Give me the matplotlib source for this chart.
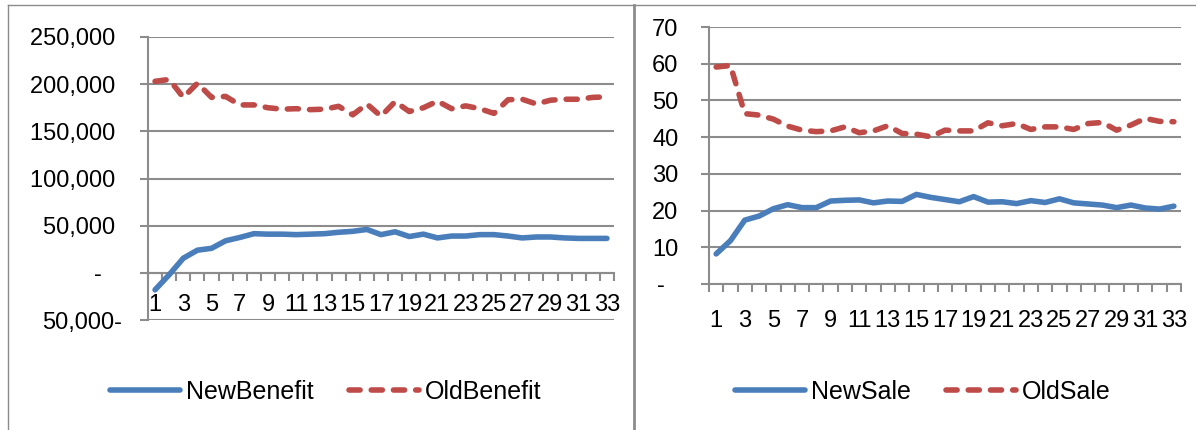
import matplotlib
matplotlib.use("Agg")
import matplotlib.pyplot as plt
from matplotlib.lines import Line2D
import numpy as np

plt.rcParams['font.family'] = ['Liberation Sans', 'DejaVu Sans']

periods = list(range(1, 34))
new_benefit = [-18000, -2000, 15500, 24000, 26000, 34000, 37500, 41500, 41000, 41000,
               40500, 41000, 41500, 43000, 44000, 46000, 40500, 43500, 38500, 41000,
               37000, 39000, 39000, 40500, 40500, 39000, 37000, 38000, 38000, 37000,
               36500, 36500, 36500]
old_benefit = [203000, 205000, 186000, 201000, 186000, 187000, 178000, 178000, 175000, 173500,
               174000, 173000, 173500, 176500, 167500, 179000, 166000, 181500, 171000, 175000,
               182000, 174000, 177000, 174000, 169000, 183500, 184000, 179000, 183000, 184000,
               184000, 186000, 186500]
new_sale = [8.2, 11.8, 17.4, 18.5, 20.5, 21.6, 20.8, 20.8, 22.6, 22.8,
            22.9, 22.1, 22.6, 22.5, 24.4, 23.6, 23.0, 22.4, 23.8, 22.3,
            22.4, 21.9, 22.7, 22.2, 23.2, 22.1, 21.8, 21.5, 20.8, 21.5,
            20.7, 20.4, 21.2]
old_sale = [59.1, 59.5, 46.4, 46.0, 44.9, 43.0, 41.9, 41.5, 41.7, 42.8,
            41.2, 41.7, 43.1, 41.0, 40.8, 40.1, 41.9, 41.7, 41.7, 43.9,
            43.1, 43.7, 42.1, 42.8, 42.8, 42.1, 43.7, 44.0, 41.9, 43.3,
            45.1, 44.3, 44.2]

benefit_ticks = [-50000, 0, 50000, 100000, 150000, 200000, 250000]
benefit_labels = ["50,000-", "-   ", "50,000 ", "100,000 ", "150,000 ", "200,000 ", "250,000 "]
sale_ticks = [0, 10, 20, 30, 40, 50, 60, 70]
sale_labels = ["-  ", "10", "20", "30", "40", "50", "60", "70"]

W, H = 1196, 430
fig = plt.figure(figsize=(W / 100, H / 100), dpi=100)

BLUE = "#4A7EBB"
RED = "#BE4B48"
GRID = "#8C8C8C"
FS = 17
LFS = 18
LW = 4.0


def px_rect(x0, x1, ytop, ybot):
    return [x0 / W, 1 - ybot / H, (x1 - x0) / W, (ybot - ytop) / H]


def style(ax, yticks, ylabels, ylim, ypad, xpad, zero_axis):
    x = np.array(periods)
    ax.set_xlim(0.5, len(periods) + 0.5)
    ax.set_ylim(*ylim)
    ax.set_yticks(yticks)
    ax.set_yticklabels(ylabels)
    ax.yaxis.grid(True, color=GRID, linewidth=1.5)
    ax.set_axisbelow(True)
    for s in ['top', 'right']:
        ax.spines[s].set_visible(False)
    ax.spines['left'].set_color(GRID)
    ax.spines['left'].set_linewidth(1.5)
    ax.spines['bottom'].set_color(GRID)
    ax.spines['bottom'].set_linewidth(1.5)
    if zero_axis:
        ax.spines['bottom'].set_position(('data', 0))
    ax.tick_params(axis='y', length=6, width=1.5, color=GRID, pad=ypad, labelsize=FS, direction='out')
    ax.set_xticks(x[::2])
    ax.set_xticklabels([str(v) for v in x[::2]])
    ax.set_xticks(np.arange(0.5, len(periods) + 1, 1.0), minor=True)
    ax.tick_params(axis='x', which='major', length=0, pad=xpad, labelsize=FS)
    ax.tick_params(axis='x', which='minor', length=6, width=1.5, color=GRID, direction='out')


def draw(ax, new_vals, old_vals, new_name, old_name):
    ax.plot(periods, new_vals, color=BLUE, lw=LW, solid_capstyle='round', solid_joinstyle='round',
            label=new_name, zorder=3)
    ax.plot(periods, old_vals, color=RED, lw=LW, dashes=(2.0, 2.0), dash_capstyle='round',
            dash_joinstyle='round', label=old_name, zorder=3)


# Left chart
ax1 = fig.add_axes(px_rect(148, 614, 37, 320))
draw(ax1, new_benefit, old_benefit, "NewBenefit", "OldBenefit")
style(ax1, benefit_ticks, benefit_labels, (-50000, 250000), 13, 15, True)
ax1.legend(loc='center', bbox_to_anchor=(326 / W, 1 - 392 / H), bbox_transform=fig.transFigure,
           ncol=2, frameon=False, fontsize=LFS, handlelength=2.8, handletextpad=0.25,
           columnspacing=1.4)

# Right chart
ax2 = fig.add_axes(px_rect(709, 1181, 27, 284))
draw(ax2, new_sale, old_sale, "NewSale", "OldSale")
style(ax2, sale_ticks, sale_labels, (0, 70), 16, 19, False)
ax2.legend(loc='center', bbox_to_anchor=(923 / W, 1 - 392 / H), bbox_transform=fig.transFigure,
           ncol=2, frameon=False, fontsize=LFS, handlelength=2.8, handletextpad=0.25,
           columnspacing=1.4)


# Panel borders
def fline(xs, ys, lw):
    fig.add_artist(Line2D([x / W for x in xs], [1 - y / H for y in ys], color=GRID, lw=lw,
                          transform=fig.transFigure))


fline([8, W], [5, 5], 1.0)
fline([8, 8], [5, H], 1.0)
fline([634, 634], [5, H], 2.0)

fig.savefig("out.png", dpi=100)
